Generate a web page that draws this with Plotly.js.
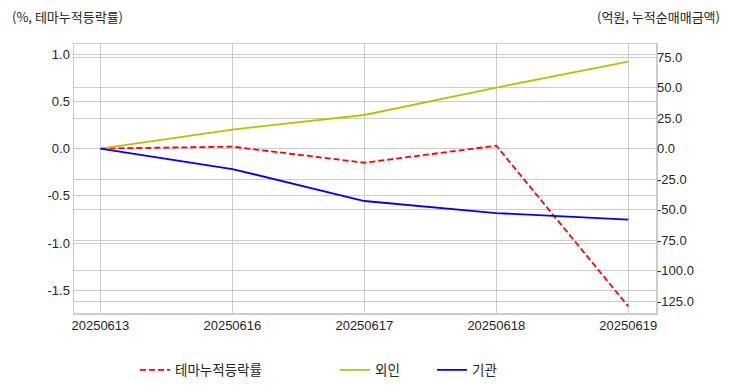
<!DOCTYPE html>
<html>
<head>
<meta charset="utf-8">
<script src="https://cdn.plot.ly/plotly-3.0.1.min.js"></script>
<style>html,body{margin:0;padding:0;background:#fff;}#chart{width:732px;height:392px;}</style>
</head>
<body>
<div id="chart"></div>
<script>
const dates = ['20250613', '20250616', '20250617', '20250618', '20250619'];
const themeReturn = [0.0, 0.02, -0.15, 0.03, -1.67];
const foreignNet = [0.0, 15.6, 27.5, 50.0, 71.3];
const institutionNet = [0.0, -16.8, -43.0, -52.9, -58.2];
const leftTickVals = [-1.5, -1.0, -0.5, 0.0, 0.5, 1.0];
const leftTickText = ['-1.5', '-1.0', '-0.5', '0.0', '0.5', '1.0'];
const rightTickVals = [-125, -100, -75, -50, -25, 0, 25, 50, 75];
const rightTickText = ['-125.0', '-100.0', '-75.0', '-50.0', '-25.0', '0.0', '25.0', '50.0', '75.0'];
const leftTitle = '(%, 테마누적등락률)';
const rightTitle = '(억원, 누적순매매금액)';
const names = ['테마누적등락률', '외인', '기관'];

const FONT = 'Liberation Sans, Arial, Noto Sans CJK KR, sans-serif';
const KFONT = 'Noto Sans CJK KR, Liberation Sans, sans-serif';
const GRID = '#cccccc';
const W = 732, H = 392;

const traces = [
  {x: dates, y: themeReturn, name: names[0], type: 'scatter', mode: 'lines',
   line: {color: '#ff0000', width: 1.8, dash: '6px,3px'}, yaxis: 'y', legend: 'legend'},
  {x: dates, y: foreignNet, name: names[1], type: 'scatter', mode: 'lines',
   line: {color: '#bfbf00', width: 1.8}, yaxis: 'y2', legend: 'legend2'},
  {x: dates, y: institutionNet, name: names[2], type: 'scatter', mode: 'lines',
   line: {color: '#0000ff', width: 1.8}, yaxis: 'y2', legend: 'legend3'}
];

function leg(px) {
  return {orientation: 'h', xref: 'container', yref: 'container',
          x: px / W, y: 1 - 370 / H, xanchor: 'left', yanchor: 'middle',
          font: {family: KFONT, size: 13.5, color: '#262626'}, bgcolor: 'rgba(0,0,0,0)'};
}

const layout = {
  width: W, height: H,
  margin: {l: 74, r: 76, t: 44, b: 79},
  paper_bgcolor: '#ffffff', plot_bgcolor: '#ffffff',
  font: {family: FONT, size: 13, color: '#262626'},
  showlegend: true,
  legend: leg(135), legend2: leg(335), legend3: leg(432),
  xaxis: {type: 'category', range: [-0.2, 4.21], showgrid: true, gridcolor: GRID, gridwidth: 1,
          showline: true, linecolor: GRID, linewidth: 1.5, mirror: true, ticks: '',
          tickfont: {family: FONT, size: 13, color: '#262626'}, zeroline: false},
  yaxis: {range: [-1.74, 1.106], tickvals: leftTickVals, ticktext: leftTickText,
          showgrid: true, gridcolor: GRID, gridwidth: 1, zeroline: false,
          showline: true, linecolor: GRID, linewidth: 1.5, mirror: true, ticks: '',
          tickfont: {family: FONT, size: 13, color: '#262626'}},
  yaxis2: {range: [-134.8, 85.7], tickvals: rightTickVals, ticktext: rightTickText,
           overlaying: 'y', side: 'right', showgrid: true, gridcolor: GRID, gridwidth: 1,
           zeroline: false, showline: false, ticks: '',
           tickfont: {family: FONT, size: 13, color: '#262626'}},
  annotations: [
    {text: leftTitle, xref: 'paper', yref: 'paper', x: -64/582, y: 1 + 28/269,
     xanchor: 'left', yanchor: 'middle', showarrow: false,
     font: {family: KFONT, size: 13, color: '#262626'}},
    {text: rightTitle, xref: 'paper', yref: 'paper', x: 1 + 66/582, y: 1 + 28/269,
     xanchor: 'right', yanchor: 'middle', showarrow: false,
     font: {family: KFONT, size: 13, color: '#262626'}}
  ]
};

Plotly.newPlot('chart', traces, layout, {displayModeBar: false, staticPlot: true});
</script>
</body>
</html>
